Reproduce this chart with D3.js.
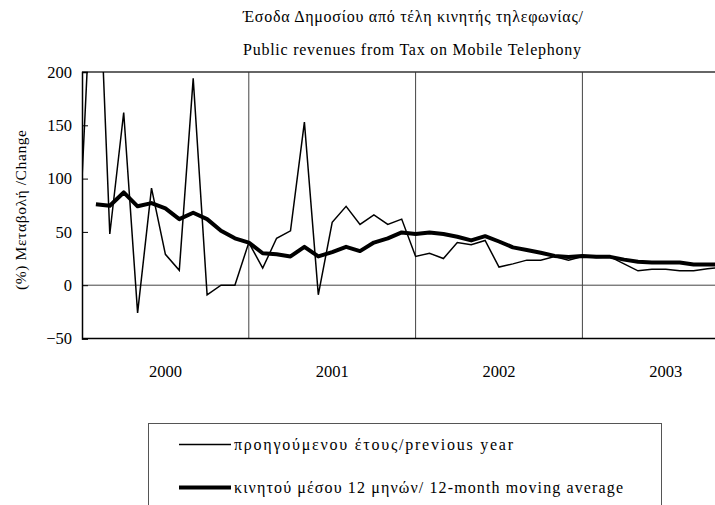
<!DOCTYPE html>
<html>
<head>
<meta charset="utf-8">
<script src="https://cdn.jsdelivr.net/npm/d3@7"></script>
<style>
  html, body { margin: 0; padding: 0; background: #fff; }
  svg { display: block; }
  svg text { font-family: "Liberation Serif", "Times New Roman", Times, "DejaVu Serif", serif; fill: #000; }
</style>
</head>
<body>
<svg id="chart" width="715" height="505"></svg>
<script>
// ---- data ----
const months = d3.range(0, 47).map(i => `${2000 + Math.floor(i / 12)}-${String(i % 12 + 1).padStart(2, "0")}`);
const years = ["2000", "2001", "2002", "2003"];
const yTicks = [-50, 0, 50, 100, 150, 200];
const yoy = [100, 375, 48, 162, -26, 91, 29, 14, 194, -9, 0, 0,
             40, 16, 44, 51, 153, -9, 59, 74, 57, 66, 57, 62,
             27, 30, 25, 40, 38, 42, 17, 20, 23.5, 23.5, 27, 23.5,
             27, 26, 26.5, 20, 13.5, 15, 15, 13.5, 13.5, 15.5, 16.5];
const ma12 = [null, 76, 74.5, 87, 74, 77, 72, 62, 68, 62, 51, 44,
              40, 30, 29, 27, 36, 27, 31, 36, 32, 40, 44, 49.5,
              48, 49.5, 48, 45.5, 42, 46, 41, 35.5, 33, 30.5, 27.5, 26.5,
              27.3, 26.6, 26.6, 24, 22, 21.3, 21.3, 21.3, 19.5, 19.5, 19.5];
const titleLines = ["Έσοδα Δημοσίου από τέλη κινητής τηλεφωνίας/", "Public revenues from Tax on Mobile Telephony"];
const yLabel = "(%) Μεταβολή /Change";
const seriesNames = ["προηγούμενου έτους/previous year", "κινητού μέσου 12 μηνών/ 12-month moving average"];

// ---- layout ----
const svg = d3.select("#chart");
const pLeft = 82, pTop = 72, pBottom = 338.5;
const x = d3.scaleLinear().domain([0, 36]).range([pLeft, 582.4]);
const pRight = x(48);
const y = d3.scaleLinear().domain([-50, 200]).range([pBottom, pTop]);

// title
svg.append("text").attr("x", 413).attr("y", 22).attr("text-anchor", "middle")
  .attr("font-size", 16).attr("textLength", 340).attr("lengthAdjust", "spacing").text(titleLines[0]);
svg.append("text").attr("x", 412).attr("y", 55).attr("text-anchor", "middle")
  .attr("font-size", 16).attr("textLength", 338).attr("lengthAdjust", "spacing").text(titleLines[1]);

// y label
svg.append("text").attr("transform", "translate(26,210) rotate(-90)").attr("text-anchor", "middle")
  .attr("font-size", 15.5).attr("textLength", 160).attr("lengthAdjust", "spacing").text(yLabel);

// clip
svg.append("clipPath").attr("id", "plotclip").append("rect")
  .attr("x", pLeft).attr("y", pTop).attr("width", pRight - pLeft).attr("height", pBottom - pTop);

// vertical year gridlines
svg.append("g").selectAll("line").data([12, 24, 36]).join("line")
  .attr("x1", d => x(d)).attr("x2", d => x(d)).attr("y1", pTop).attr("y2", pBottom)
  .attr("stroke", "#444").attr("stroke-width", 1);

// zero line
svg.append("line").attr("x1", pLeft).attr("x2", pRight).attr("y1", y(0)).attr("y2", y(0))
  .attr("stroke", "#444").attr("stroke-width", 1);

// top frame
svg.append("line").attr("x1", pLeft).attr("x2", pRight).attr("y1", pTop).attr("y2", pTop)
  .attr("stroke", "#333").attr("stroke-width", 1.5);

// y axis
const yAxis = d3.axisLeft(y).tickValues(yTicks).tickSize(-6).tickPadding(10).tickFormat(d3.format("d"));
const ga = svg.append("g").attr("transform", `translate(${pLeft},0)`).call(yAxis);
ga.attr("font-family", null).attr("font-size", null);
ga.select(".domain").attr("stroke", "#000").attr("stroke-width", 1.5);
ga.selectAll(".tick line").attr("stroke", "#000");
ga.selectAll(".tick text").attr("font-size", 16.5).attr("fill", "#000");

// bottom axis line
svg.append("line").attr("x1", pLeft).attr("x2", pRight).attr("y1", pBottom).attr("y2", pBottom)
  .attr("stroke", "#000").attr("stroke-width", 1.5);

// year labels
svg.append("g").selectAll("text").data(years).join("text")
  .attr("x", (d, i) => x(i * 12 + 6)).attr("y", 377).attr("text-anchor", "middle")
  .attr("font-size", 16.5).text(d => d);

// lines
const gLines = svg.append("g").attr("clip-path", "url(#plotclip)");
const lineGen = d3.line().defined(d => d != null).x((d, i) => x(i)).y(d => y(d));
gLines.append("path").datum(yoy).attr("d", lineGen).attr("fill", "none")
  .attr("stroke", "#000").attr("stroke-width", 1.5).attr("stroke-linejoin", "miter");
gLines.append("path").datum(ma12).attr("d", lineGen).attr("fill", "none")
  .attr("stroke", "#000").attr("stroke-width", 4).attr("stroke-linejoin", "round");

// legend
svg.append("rect").attr("x", 148.5).attr("y", 423.5).attr("width", 513).attr("height", 100)
  .attr("fill", "#fff").attr("stroke", "#555").attr("stroke-width", 1);
const legY = [444.5, 487.5];
const legW = [1.5, 4];
const legTL = [279, 389];
seriesNames.forEach((name, i) => {
  svg.append("line").attr("x1", 179).attr("x2", 231).attr("y1", legY[i]).attr("y2", legY[i])
    .attr("stroke", "#000").attr("stroke-width", legW[i]);
  svg.append("text").attr("x", 234).attr("y", legY[i] + 5).attr("font-size", 16)
    .attr("textLength", legTL[i]).attr("lengthAdjust", "spacing").text(name);
});
</script>
</body>
</html>
